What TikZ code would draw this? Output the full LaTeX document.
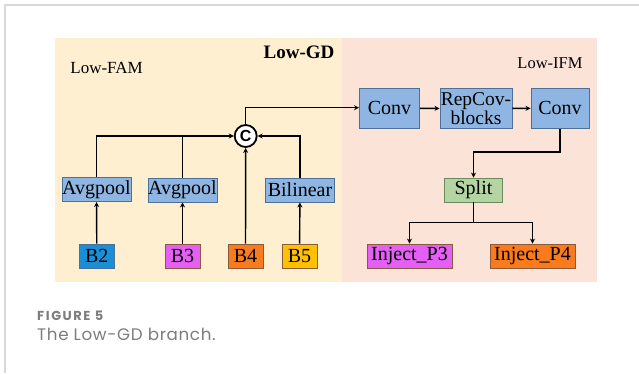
\documentclass[tikz,border=0pt]{standalone}
\usepackage{fontspec}
\setmainfont{Liberation Serif}
\newfontfamily\capfont[LetterSpace=4]{Poppins}
\newfontfamily\figfont[LetterSpace=12]{Poppins}
\newfontfamily\circfont{Liberation Sans}
\usetikzlibrary{arrows.meta,calc}

\definecolor{famback}{HTML}{FDEFCF}
\definecolor{ifmback}{HTML}{FCE3D8}
\definecolor{blockblue}{HTML}{8FB6E3}
\definecolor{blockedge}{HTML}{4E6F98}
\definecolor{splitgreen}{HTML}{B4D5A3}
\definecolor{splitedge}{HTML}{6B8A5C}
\definecolor{inblue}{HTML}{1A8FD6}
\definecolor{inmagenta}{HTML}{E45FF3}
\definecolor{inorange}{HTML}{FA7A1E}
\definecolor{ingold}{HTML}{FFC000}
\definecolor{inedge}{HTML}{8A5A3A}
\definecolor{cardline}{HTML}{D9D9D9}
\definecolor{captext}{HTML}{7D7D7D}

\tikzset{
  box/.style={draw=blockedge, line width=0.9pt, fill=blockblue, inner sep=0pt,
    font=\fontsize{20}{19}\selectfont, align=center},
  inbox/.style={draw=inedge, line width=0.9pt, inner sep=0pt, minimum height=24pt,
    font=\fontsize{20}{19}\selectfont},
  link/.style={line width=1.4pt, draw=black},
  arr/.style={link, -{Stealth[length=5pt,width=5pt]}},
}

\begin{document}
\begin{tikzpicture}[x=1pt,y=-1pt]
  \useasboundingbox (0,0) rectangle (639,373);
  \fill[white] (0,0) rectangle (639,373);
  % card border
  \draw[cardline, line width=1.6pt] (5,373) -- (5,5) -- (639,5);

  % two background panels
  \fill[famback] (55,38) rectangle (341.5,282);
  \fill[ifmback] (341.5,38) rectangle (597,282);

  % panel titles
  \node[font=\fontsize{19}{19}\selectfont\bfseries] (title) at (299,52) {Low-GD};
  \node[font=\fontsize{17}{16}\selectfont] (fam) at (106.6,68) {Low-FAM};
  \node[font=\fontsize{16.5}{16}\selectfont] (ifm) at (550,63) {Low-IFM};

  % Low-IFM blocks
  \node[box, minimum width=60pt, minimum height=40pt] (conv1) at (389.5,108.3) {Conv};
  \node[box, minimum width=72pt, minimum height=40.5pt,
        font=\fontsize{19.5}{17}\selectfont] (rep) at (476,108.5) {RepCov-\\blocks};
  \node[box, minimum width=58pt, minimum height=40pt] (conv2) at (560,108.3) {Conv};
  \node[box, draw=splitedge, fill=splitgreen, minimum width=58pt, minimum height=24pt] (split) at (473.5,190) {Split};

  % Low-FAM blocks
  \node[draw=black, line width=1.8pt, fill=white, circle, minimum size=22pt, inner sep=0pt,
        font=\circfont\bfseries\fontsize{16}{16}\selectfont] (cat) at (245.7,136) {C};
  \node[box, minimum width=69pt, minimum height=24pt] (avg1) at (96.5,189.5) {Avgpool};
  \node[box, minimum width=69pt, minimum height=24pt] (avg2) at (182.5,190) {Avgpool};
  \node[box, minimum width=69.5pt, minimum height=24pt] (bil) at (300,190) {Bilinear};

  % inputs and outputs
  \node[inbox, fill=inblue, minimum width=35.5pt, draw=blockedge] (b2) at (96.8,256) {B2};
  \node[inbox, fill=inmagenta, minimum width=35pt] (b3) at (182.5,256) {B3};
  \node[inbox, fill=inorange, minimum width=35pt] (b4) at (245.5,256) {B4};
  \node[inbox, fill=ingold, minimum width=35pt] (b5) at (299.5,256) {B5};
  \node[inbox, fill=inmagenta, minimum width=85pt] (inj3) at (409.5,256) {Inject\_P3};
  \node[inbox, fill=inorange, minimum width=85pt] (inj4) at (532.5,256) {Inject\_P4};

  \coordinate (bend) at (0,152);
  \coordinate (fork) at (0,222.7);
  \coordinate (top) at (0,107.7);

  % connectors, Low-FAM side
  \draw[arr] (b2) -- (avg1);
  \draw[arr] (b3) -- (avg2);
  \draw[arr] (b5) -- (bil);
  \draw[arr] (b4) -- (cat);
  \draw[arr] (avg1.north) |- (cat.west);
  \draw[link] (avg2.north) -- (avg2.north |- cat.west);
  \draw[arr] (bil.north) |- (cat.east);
  \draw[arr] (cat.north) -- (cat.north |- top) -- (conv1.west |- top);

  % connectors, Low-IFM side
  \draw[arr] (conv1) -- (rep);
  \draw[arr] (rep) -- (conv2);
  \draw[arr] (conv2.south) -- (conv2.south |- bend) -| (split.north);
  \draw[arr] (split.south) -- (split.south |- fork) -| (inj3.north);
  \draw[arr] (split.south |- fork) -| (inj4.north);

  % caption
  \node[anchor=base west, text=captext, inner sep=0pt,
        font=\figfont\fontsize{13}{13}\selectfont\bfseries] (fig) at (37,320) {FIGURE 5};
  \node[anchor=base west, text=captext, inner sep=0pt,
        font=\capfont\fontsize{16.7}{16}\selectfont] (cap) at (37,340) {The Low-GD branch.};
\end{tikzpicture}
\end{document}
